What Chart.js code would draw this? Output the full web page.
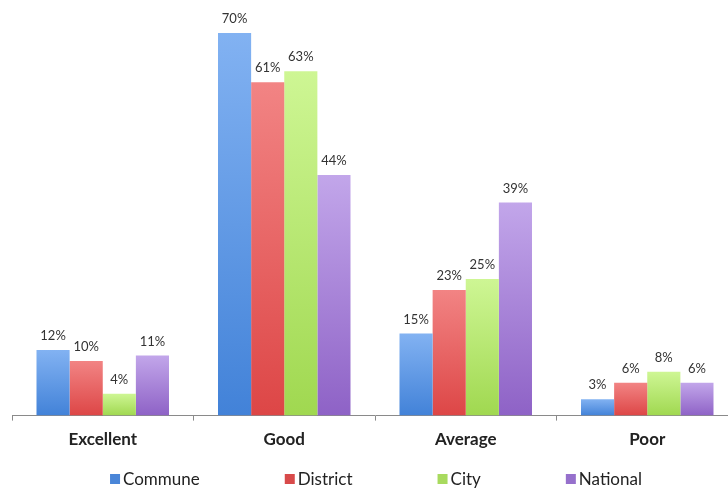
<!DOCTYPE html>
<html>
<head>
<meta charset="utf-8">
<script src="https://cdn.jsdelivr.net/npm/chart.js@4/dist/chart.umd.min.js"></script>
<style>
  html, body { margin: 0; padding: 0; background: #fff; overflow: hidden; }
  #wrap { width: 740px; height: 490px; }
</style>
</head>
<body>
<div id="wrap"><canvas id="myChart"></canvas></div>
<script>
const categories = ['Excellent', 'Good', 'Average', 'Poor'];
const seriesNames = ['Commune', 'District', 'City', 'National'];
const commune = [12, 70, 15, 3];
const district = [10, 61, 23, 6];
const city = [4, 63, 25, 8];
const national = [11, 44, 39, 6];

// light top / dark bottom for each series, plus the legend swatch
const shades = [
  {light: '#82b2f2', dark: '#4282d8', swatch: '#4a86d8'},
  {light: '#f28484', dark: '#dd4646', swatch: '#d84a4a'},
  {light: '#cef694', dark: '#a0d850', swatch: '#a8da5e'},
  {light: '#c2a6ea', dark: '#8e62c6', swatch: '#9670cc'},
];

const FONT = 'Lato, "Open Sans", sans-serif';

function barFill(i) {
  return (c) => {
    const chart = c.chart;
    const area = chart.chartArea;
    if (!area || c.type !== 'data' || !chart.scales.y) return shades[i].dark;
    const top = chart.scales.y.getPixelForValue(c.raw);
    const g = chart.ctx.createLinearGradient(0, top, 0, area.bottom);
    g.addColorStop(0, shades[i].light);
    g.addColorStop(1, shades[i].dark);
    return g;
  };
}

// percentage text above every bar
const valueLabels = {
  id: 'valueLabels',
  afterDatasetsDraw(chart) {
    const ctx = chart.ctx;
    ctx.save();
    ctx.font = '13px ' + FONT;
    ctx.fillStyle = '#333';
    ctx.textAlign = 'center';
    ctx.textBaseline = 'middle';
    chart.data.datasets.forEach((ds, i) => {
      chart.getDatasetMeta(i).data.forEach((bar, j) => {
        ctx.fillText(ds.data[j] + '%', bar.x, bar.y - 14);
      });
    });
    ctx.restore();
  }
};

// single row legend under the axis labels
const rowLegend = {
  id: 'rowLegend',
  afterDraw(chart) {
    const ctx = chart.ctx;
    const box = 10, gap = 3, spacing = 85, centerX = 376, y = 479;
    ctx.save();
    ctx.font = '17px ' + FONT;
    ctx.textBaseline = 'middle';
    const widths = seriesNames.map(n => box + gap + ctx.measureText(n).width);
    const total = widths.reduce((a, b) => a + b, 0) + spacing * (widths.length - 1);
    let x = centerX - total / 2;
    seriesNames.forEach((name, i) => {
      ctx.fillStyle = shades[i].swatch;
      ctx.fillRect(x, y - box / 2, box, box);
      ctx.fillStyle = '#222';
      ctx.fillText(name, x + box + gap, y + 1);
      x += widths[i] + spacing;
    });
    ctx.restore();
  }
};

const values = [commune, district, city, national];

new Chart(document.getElementById('myChart'), {
  type: 'bar',
  data: {
    labels: categories,
    datasets: seriesNames.map((name, i) => ({
      label: name,
      data: values[i],
      backgroundColor: barFill(i),
      borderWidth: 0,
    })),
  },
  options: {
    responsive: true,
    maintainAspectRatio: false,
    animation: false,
    layout: {
      padding: {left: 12, right: 2, top: 33, bottom: 31}
    },
    datasets: {
      bar: {categoryPercentage: 0.73, barPercentage: 1}
    },
    plugins: {
      legend: {display: false},
      tooltip: {enabled: false},
    },
    scales: {
      x: {
        grid: {
          drawOnChartArea: false,
          drawTicks: true,
          tickLength: 5,
          color: '#8a8a8a',
          offset: true,
        },
        border: {color: '#8a8a8a', width: 1},
        ticks: {
          color: '#222',
          padding: 9,
          font: {family: FONT, size: 17, weight: 'bold'},
        },
      },
      y: {
        display: false,
        min: 0,
        max: 70,
      },
    },
  },
  plugins: [valueLabels, rowLegend],
});
</script>
</body>
</html>
